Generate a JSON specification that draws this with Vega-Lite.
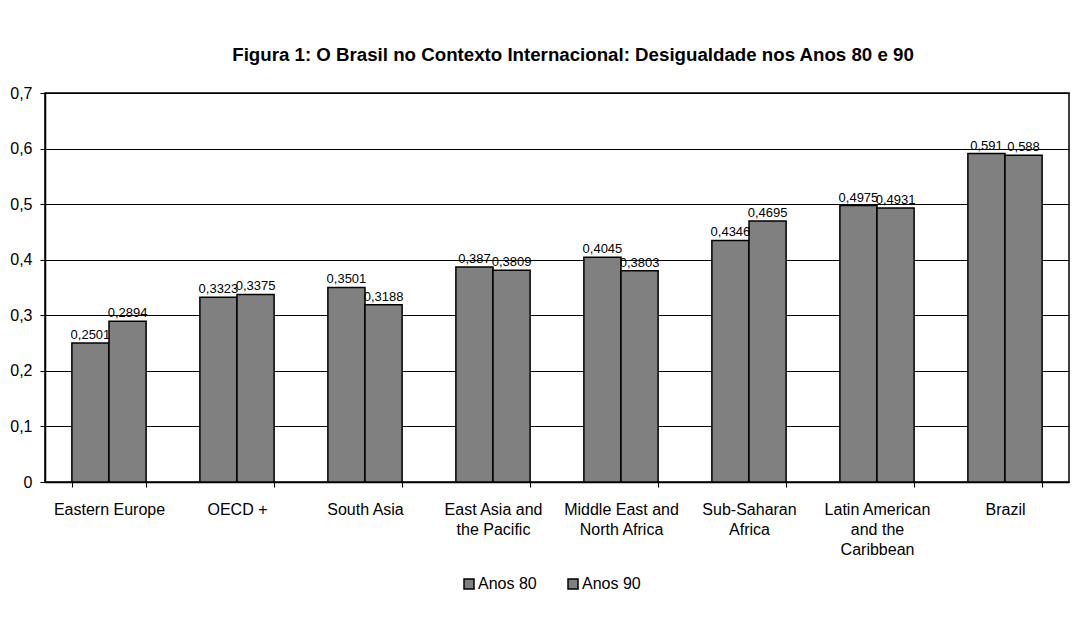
{
  "$schema": "https://vega.github.io/schema/vega-lite/v6.json",
  "width": 1024,
  "height": 389,
  "autosize": {"type": "none"},
  "padding": {"left": 45, "top": 93, "right": 8, "bottom": 135},
  "background": "white",
  "title": {
    "text": "Figura 1: O Brasil no Contexto Internacional: Desigualdade nos Anos 80 e 90",
    "font": "Liberation Sans",
    "fontSize": 18.7,
    "fontWeight": "bold",
    "color": "black",
    "offset": 20,
    "dx": 16
  },
  "config": {
    "locale": {"number": {"decimal": ",", "thousands": ".", "grouping": [3], "currency": ["", ""]}},
    "view": {"stroke": "black", "strokeWidth": 1.5},
    "font": "Liberation Sans"
  },
  "data": {
    "values": [
      {"region": "Eastern Europe", "period": "Anos 80", "value": 0.2501},
      {"region": "Eastern Europe", "period": "Anos 90", "value": 0.2894},
      {"region": "OECD +", "period": "Anos 80", "value": 0.3323},
      {"region": "OECD +", "period": "Anos 90", "value": 0.3375},
      {"region": "South Asia", "period": "Anos 80", "value": 0.3501},
      {"region": "South Asia", "period": "Anos 90", "value": 0.3188},
      {"region": "East Asia and the Pacific", "period": "Anos 80", "value": 0.387},
      {"region": "East Asia and the Pacific", "period": "Anos 90", "value": 0.3809},
      {"region": "Middle East and North Africa", "period": "Anos 80", "value": 0.4045},
      {"region": "Middle East and North Africa", "period": "Anos 90", "value": 0.3803},
      {"region": "Sub-Saharan Africa", "period": "Anos 80", "value": 0.4346},
      {"region": "Sub-Saharan Africa", "period": "Anos 90", "value": 0.4695},
      {"region": "Latin American and the Caribbean", "period": "Anos 80", "value": 0.4975},
      {"region": "Latin American and the Caribbean", "period": "Anos 90", "value": 0.4931},
      {"region": "Brazil", "period": "Anos 80", "value": 0.591},
      {"region": "Brazil", "period": "Anos 90", "value": 0.588}
    ]
  },
  "encoding": {
    "x": {
      "field": "region",
      "type": "nominal",
      "sort": null,
      "scale": {"paddingInner": 0.42, "paddingOuter": 0.21},
      "axis": {
        "title": null,
        "labelAngle": 0,
        "tickBand": "extent",
        "domainColor": "black",
        "domainWidth": 1.5,
        "tickColor": "black",
        "tickSize": 5,
        "labelFontSize": 16,
        "labelColor": "black",
        "labelPadding": 14,
        "labelLineHeight": 20,
        "labelExpr": "datum.value == 'East Asia and the Pacific' ? ['East Asia and', 'the Pacific'] : datum.value == 'Middle East and North Africa' ? ['Middle East and', 'North Africa'] : datum.value == 'Sub-Saharan Africa' ? ['Sub-Saharan', 'Africa'] : datum.value == 'Latin American and the Caribbean' ? ['Latin American', 'and the', 'Caribbean'] : datum.label"
      }
    },
    "xOffset": {
      "field": "period",
      "sort": ["Anos 80", "Anos 90"],
      "scale": {"paddingInner": 0, "paddingOuter": 0}
    },
    "y": {
      "field": "value",
      "type": "quantitative",
      "scale": {"domain": [0, 0.7]},
      "axis": {
        "title": null,
        "values": [0, 0.1, 0.2, 0.3, 0.4, 0.5, 0.6, 0.7],
        "format": "~g",
        "grid": true,
        "gridColor": "black",
        "gridOpacity": 1,
        "gridWidth": 1,
        "domainColor": "black",
        "domainWidth": 1.5,
        "tickColor": "black",
        "tickSize": 5,
        "labelFontSize": 16,
        "labelColor": "black",
        "labelPadding": 8
      }
    }
  },
  "layer": [
    {
      "mark": {"type": "bar", "stroke": "black", "strokeWidth": 1.5},
      "encoding": {
        "color": {
          "field": "period",
          "type": "nominal",
          "scale": {"domain": ["Anos 80", "Anos 90"], "range": ["#808080", "#808080"]},
          "legend": {
            "title": null,
            "orient": "none",
            "legendX": 416,
            "legendY": 483,
            "direction": "horizontal",
            "symbolType": "square",
            "symbolSize": 100,
            "symbolStrokeColor": "black",
            "symbolStrokeWidth": 1.5,
            "symbolFillColor": "#808080",
            "labelFontSize": 16,
            "labelColor": "black",
            "labelOffset": 1,
            "columnPadding": 28
          }
        }
      }
    },
    {
      "mark": {"type": "text", "baseline": "bottom", "dy": -1, "fontSize": 13, "color": "black"},
      "encoding": {
        "text": {"field": "value", "type": "quantitative", "format": "~g"}
      }
    }
  ]
}
